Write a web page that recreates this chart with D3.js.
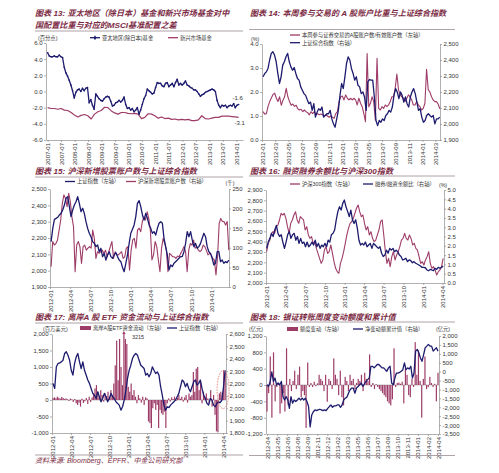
<!DOCTYPE html>
<html><head><meta charset="utf-8">
<script src="https://cdn.jsdelivr.net/npm/d3@7/dist/d3.min.js"></script>
<style>
html,body{margin:0;padding:0;background:#fff;}
svg{display:block;}
text{font-family:"Liberation Sans","Noto Sans CJK SC",sans-serif;}
</style></head><body>
<svg id="chart" width="499" height="473"></svg>
<script>
// ===== 图表13 =====
const f13XTicks = ["2007-01","2007-07","2008-01","2008-07","2009-01","2009-07","2010-01","2010-07","2011-01","2011-07","2012-01","2012-07","2013-01","2013-07","2014-01"];
const f13YTicks = [6,4,2,0,-2,-4,-6];
const f13Asia = [4.8,4.4,4.3,4.3,4.4,4.3,4.3,4.5,4.3,4.2,3.0,2.3,1.9,1.4,0.8,0.1,-0.8,-0.1,0.2,0.3,0.0,0.4,0.1,0.4,0.5,-1.4,-1.0,-1.7,-2.2,-0.3,-0.6,-0.9,-1.1,-1.2,-0.9,-0.7,-0.6,-0.7,-1.2,-1.8,-1.7,-1.4,-1.3,-1.1,-1.3,-1.1,-0.7,-1.6,-2.1,-2.0,-2.3,-2.1,-2.5,-2.3,-2.0,-2.8,-2.3,-1.6,-0.9,-0.5,0.3,0.1,-0.1,-0.3,-0.2,0.5,1.1,1.0,1.0,0.7,0.6,1.0,1.1,0.6,0.8,1.0,0.6,1.1,1.5,0.8,1.0,0.8,1.0,1.3,0.8,0.7,0.5,0.4,0.2,0.2,0.0,-0.3,-0.6,-0.4,-0.3,-0.1,0.0,0.1,0.2,0.3,0.2,0.0,-1.1,-1.7,-2.0,-1.7,-1.8,-1.7,-2.0,-1.8,-1.7,-1.8,-1.5,-2.0,-1.7,-1.6];
const f13EM = [-2.0,-2.1,-2.1,-2.2,-2.1,-2.3,-2.35,-2.6,-2.9,-3.15,-2.95,-2.85,-3.0,-3.4,-2.8,-2.5,-2.35,-1.95,-2.0,-2.4,-2.65,-2.8,-2.6,-2.6,-2.7,-2.75,-2.7,-2.8,-3.35,-3.2,-2.75,-2.8,-3.0,-3.3,-3.15,-3.35,-3.3,-3.45,-3.4,-3.5,-3.45,-3.5,-3.45,-3.6,-3.6,-3.5,-3.0,-3.35,-3.4,-3.3,-3.2,-3.2,-3.05,-3.05,-3.05,-3.1,-3.15,-3.2];
const f13EndLabels = ["-1.6","-3.1"];

// ===== 图表14 =====
const f14XTicks = ["2012-01","2012-03","2012-05","2012-07","2012-09","2012-11","2013-01","2013-03","2013-05","2013-07","2013-09","2013-11","2014-01","2014-03"];
const f14LeftTicks = [0,1,2,3,4];
const f14RightTicks = [1900,2000,2100,2200,2300,2400,2500];
const f14Ratio = [1.18,1.08,1.1,1.4,1.6,1.75,1.9,1.95,1.75,1.6,1.8,1.45,1.65,1.8,2.15,1.8,1.6,1.45,1.5,1.4,1.45,1.3,1.25,1.28,1.18,1.25,1.18,1.14,1.05,1.18,1.1,1.18,1.08,1.1,1.05,1.08,1.05,1.0,1.05,1.0,0.95,1.0,0.95,0.9,1.1,1.18,1.6,1.8,1.83,1.67,1.88,1.74,1.67,1.74,1.67,1.74,1.67,1.46,1.74,1.53,1.39,1.1,0.76,3.6,1.39,1.53,1.8,1.6,0.83,3.4,1.32,1.25,1.39,1.32,1.46,1.39,1.46,1.6,1.8,1.8,2.15,2.75,2.1,1.88,1.8,1.74,1.6,1.74,1.88,1.8,1.67,1.46,1.46,1.6,1.46,1.39,1.25,1.32,1.53,2.95,2.1,2.0,1.8,1.67,1.6,1.6,1.5,1.3];
const f14SH = [2295,2316,2326,2347,2400,2441,2452,2431,2389,2316,2253,2295,2368,2389,2420,2441,2389,2357,2336,2353,2316,2284,2274,2232,2211,2190,2179,2152,2127,2137,2085,2127,2043,2074,2095,2085,2106,2043,2053,2064,2064,2085,2032,2001,1980,2032,2085,2179,2253,2221,2295,2378,2420,2400,2347,2316,2274,2295,2242,2232,2190,2200,2169,2085,2263,2278,2274,2274,2169,2022,1990,2022,2011,2032,2022,2053,2064,2085,2074,2106,2179,2221,2200,2158,2200,2179,2137,2169,2127,2106,2169,2200,2221,2190,2137,2085,2095,2043,2011,2022,2053,2064,2053,2043,2053,2001,2032,2032,2043];

// ===== 图表15 =====
const f15XTicks = ["2012-01","2012-04","2012-07","2012-10","2013-01","2013-04","2013-07","2013-10","2014-01"];
const f15LeftTicks = [1900,2000,2100,2200,2300,2400,2500];
const f15RightTicks = [0,50,100,150,200,250];
const f15SH = [2178,2259,2314,2320,2327,2341,2351,2371,2402,2443,2453,2392,2331,2371,2402,2422,2453,2412,2361,2382,2351,2300,2259,2229,2208,2178,2167,2147,2157,2116,2137,2086,2106,2065,2096,2116,2086,2076,2096,2110,2086,2065,2055,2020,1994,2045,2096,2167,2229,2253,2280,2331,2412,2429,2392,2341,2310,2351,2320,2280,2259,2229,2239,2218,2259,2290,2300,2290,2198,2147,2096,2004,2035,2025,2045,2055,2065,2076,2086,2086,2116,2167,2239,2208,2239,2188,2147,2167,2137,2147,2167,2198,2229,2208,2147,2116,2106,2076,2035,2045,2116,2116,2055,2065,2045,2055,2049,2065];
const f15Accounts = [52,116,107,111,120,145,171,213,235,226,205,239,218,179,154,39,107,116,103,60,103,107,94,99,103,99,145,124,73,90,86,90,94,86,94,77,90,103,116,73,90,82,82,86,90,73,77,99,103,43,94,120,124,99,145,150,141,167,179,171,192,175,145,69,82,116,103,69,39,99,124,111,94,39,86,82,77,77,73,79,77,86,94,103,90,39,94,111,107,120,99,103,94,90,94,107,103,94,82,86,82,73,69,31,77,162,175,167,167,158,167,94];

// ===== 图表16 =====
const f16XTicks = ["2012-01","2012-04","2012-07","2012-10","2013-01","2013-04","2013-07","2013-10","2014-01","2014-04"];
const f16LeftTicks = [2000,2100,2200,2300,2400,2500,2600,2700,2800,2900];
const f16RightTicks = [0,0.5,1,1.5,2,2.5,3,3.5,4,4.5,5];
const f16CSI = [2303,2384,2416,2481,2497,2481,2545,2561,2610,2674,2658,2674,2626,2545,2481,2577,2610,2658,2690,2610,2577,2642,2626,2610,2513,2545,2465,2432,2448,2384,2400,2335,2287,2239,2190,2223,2319,2352,2287,2303,2368,2287,2206,2142,2110,2094,2190,2239,2303,2384,2465,2529,2577,2593,2626,2674,2723,2755,2690,2642,2658,2577,2513,2545,2465,2497,2432,2400,2416,2465,2513,2593,2610,2465,2303,2190,2239,2158,2255,2303,2223,2271,2303,2352,2416,2432,2481,2432,2416,2465,2432,2368,2384,2335,2319,2255,2190,2206,2174,2223,2255,2303,2190,2142,2158,2126,2077,2110,2126,2158,2239];
const f16Ratio = [1.86,2.2,2.4,2.67,2.5,2.85,3.1,2.67,2.5,2.6,2.2,1.86,2.2,2.6,2.76,2.4,2.6,2.67,2.3,2.5,2.13,2.4,2.13,2.2,1.95,2.2,1.95,2.04,2.2,2.04,2.3,1.95,2.13,1.86,2.04,1.95,2.13,1.95,2.3,2.2,2.6,2.67,2.85,3.4,3.85,4.1,3.92,4.28,4.46,4.1,3.85,3.57,3.92,3.4,3.2,3.4,2.95,2.3,2.04,2.13,2.04,2.2,1.95,2.04,2.13,1.86,2.13,2.04,1.95,1.86,1.95,1.6,1.42,1.5,1.77,1.6,1.86,1.77,1.86,1.68,1.77,1.68,1.5,1.42,1.24,1.27,1.33,1.15,1.24,1.2,1.09,1.15,1.06,1.02,0.97,0.91,0.84,0.84,0.82,0.7,0.66,0.73,0.7,0.66,0.79,0.73,0.84,0.79,0.84,0.91];

// ===== 图表17 =====
const f17XTicks = ["2012-01","2012-04","2012-07","2012-10","2013-01","2013-04","2013-07","2013-10","2014-01","2014-04"];
const f17LeftTicks = [-1000,-500,0,500,1000,1500,2000];
const f17RightTicks = [1800,1900,2000,2100,2200,2300,2400,2500,2600];
const f17Flows = [60,80,50,100,70,40,90,60,30,50,20,-30,40,20,-60,30,-100,-150,-80,-200,40,-90,-40,60,-120,100,-60,
 80,200,350,450,250,100,300,150,-50,200,120,250,80,
 300,150,500,1050,1800,600,1850,1000,450,3215,1850,1700,400,
 250,500,150,300,100,-100,150,50,-80,100,-150,80,50,
 -650,-700,-850,-250,-100,-300,-150,-850,-300,-400,-450,-350,-850,-100,
 50,-50,80,30,100,-30,60,150,40,100,-50,80,
 150,-80,200,100,150,850,250,950,1000,300,550,-100,250,
 100,200,50,-100,300,-200,150,-450,-950,-980,200,250,150,900,850];
const f17SH = [2201,2160,2335,2361,2367,2375,2388,2442,2457,2429,2388,2307,2268,2361,2415,2442,2375,2321,2375,2307,2268,2228,2201,2160,2120,2106,2079,2133,2093,2052,2079,2120,2093,2052,2079,2120,2093,2079,2052,2039,2025,1985,2012,2066,2147,2241,2307,2348,2402,2429,2442,2429,2388,2348,2335,2321,2268,2281,2254,2281,2335,2307,2281,2294,2268,2174,2106,2025,1985,2012,2006,2025,2039,2052,2066,2093,2120,2174,2228,2214,2174,2201,2160,2133,2174,2214,2228,2187,2201,2228,2160,2106,2079,2039,2025,2079,2066,2025,2012,2039,2052,2045,2066,2174,2307];

// ===== 图表18 =====
const f18XLabels = ["2012-04","2012-05","2012-06","2012-08","2012-09","2012-11","2012-12","2013-02","2013-03","2013-05","2013-06","2013-07","2013-09","2013-10","2013-11","2014-01","2014-02","2014-04"];
const f18LeftTicks = [-1200,-800,-400,0,400,800,1200];
const f18RightTicks = [-3500,-3000,-2500,-2000,-1500,-1000,-500,0,500,1000,1500,2000];
const f18Weekly = [-650,-200,700,-800,800,-400,-50,50,-700,-450,-200,-650,900,-500,150,-150,100,350,-100,250,450,-300,-150,-250,-1050,550,-50,50,-50,80,-30,40,250,150,100,-150,250,-410,150,100,-100,650,250,150,-250,350,-300,-500,200,100,-150,250,100,150,-100,50,150,100,250,-150,300,150,100,750,-50,50,-100,20,-50,-100,-150,-200,-250,-300,-400,-450,-500,-350,900,-50,50,60,30,80,-450,400,250,-250,-300,150,-50,1050,250,850,100,-800,150,700,-100,-50,200,50,-50,30,-400,300];
const f18Cum = [-740,-830,-550,-20,-550,-360,-740,-640,-740,-550,-1400,-1590,-1400,-1590,-2060,-1400,-1770,-1590,-1680,-1590,-1490,-1590,-1490,-1590,-1490,-1680,-1960,-3100,-2430,-2250,-2150,-2190,-2150,-2110,-2150,-2190,-2150,-2190,-2060,-1960,-1870,-2000,-1920,-1920,-1870,-1870,-2000,-1870,-1590,-1490,-1430,-1210,-1020,-920,-920,-1210,-920,-830,-740,-640,-830,-680,-550,-450,-360,300,300,210,300,400,400,300,210,210,110,20,210,300,-640,-740,-360,-80,-80,-40,20,110,490,110,210,150,300,-360,-80,1150,1250,1060,770,580,960,1340,1430,1530,1430,1430,1150,1250,1340,1150];

// ================= drawing =================
const svg = d3.select("#chart");
const NAVY="#1d1b6e", MAROON="#9e3c68", TITLEC="#7b2a44", AXISC="#8f8f8f", TXT="#333";
const pm = d3.utcParse("%Y-%m"), pd = d3.utcParse("%Y-%m-%d");
const ymFmt = d3.utcFormat("%Y-%m");
function spread(a,b,n){const t0=+pd(a),t1=+pd(b);return d3.range(n).map(i=>new Date(t0+(t1-t0)*i/(n-1)));}
const numFmt = d => (d<0?"-":"")+d3.format(",")(Math.abs(d));
const decFmt = d => (d<0?"-":"")+Math.abs(d).toFixed(1);

function styleAxis(a){
  a.attr("font-family",null).attr("font-size",null);
  a.select(".domain").attr("stroke",AXISC).attr("stroke-width",0.7);
  a.selectAll(".tick line").attr("stroke",AXISC).attr("stroke-width",0.7);
  a.selectAll(".tick text").attr("fill",TXT).style("font-size","6px");
  return a;
}
function xAxisBottom(x,ticks,fmt,y){
  const a=svg.append("g").attr("transform",`translate(0,${y})`)
    .call(d3.axisBottom(x).tickValues(ticks).tickFormat(fmt).tickSize(2).tickSizeOuter(0));
  styleAxis(a);
  a.selectAll(".tick text").attr("transform","rotate(-90)").attr("text-anchor","end").attr("x",-3).attr("y",0).attr("dy","0.35em");
}
function yAxisLeft(y,ticks,fmt,x){
  styleAxis(svg.append("g").attr("transform",`translate(${x},0)`)
    .call(d3.axisLeft(y).tickValues(ticks).tickFormat(fmt).tickSize(2).tickPadding(1.5).tickSizeOuter(0)));
}
function yAxisRight(y,ticks,fmt,x){
  styleAxis(svg.append("g").attr("transform",`translate(${x},0)`)
    .call(d3.axisRight(y).tickValues(ticks).tickFormat(fmt).tickSize(2).tickPadding(1.5).tickSizeOuter(0)));
}
function title(x,y,lines){
  lines.forEach((t,i)=>svg.append("text").attr("x",x).attr("y",y+i*11.5).attr("fill",TITLEC)
    .style("font-size","8.1px").style("font-style","italic").style("font-weight","bold").text(t));
}
function rule(x1,x2,y){svg.append("line").attr("x1",x1).attr("x2",x2).attr("y1",y).attr("y2",y).attr("stroke","#9b8c90").attr("stroke-width",0.8);}
function smallText(x,y,t,anchor){svg.append("text").attr("x",x).attr("y",y).attr("dy","0.35em").attr("text-anchor",anchor||"start").attr("fill",TXT).style("font-size","5.3px").text(t);}
function legLine(x,y,color,label,marker){
  svg.append("line").attr("x1",x).attr("x2",x+10).attr("y1",y).attr("y2",y).attr("stroke",color).attr("stroke-width",1.3);
  if(marker) svg.append("path").attr("d",d3.symbol(d3.symbolDiamond,7)()).attr("transform",`translate(${x+5},${y})`).attr("fill",color);
  smallText(x+12,y,label);
}
function legRect(x,y,color,label){
  svg.append("rect").attr("x",x).attr("y",y-2).attr("width",11).attr("height",4).attr("fill",color);
  smallText(x+13,y,label);
}
function lineSeries(x,y,dates,vals,color,w){
  svg.append("path").datum(vals.map((v,i)=>[dates[i],v]))
    .attr("d",d3.line().x(d=>x(d[0])).y(d=>y(d[1])))
    .attr("fill","none").attr("stroke",color).attr("stroke-width",w).attr("stroke-linejoin","round");
}

// ---- Panel 13 ----
{
  const x=d3.scaleUtc().domain([pd("2006-12-10"),pd("2014-04-01")]).range([46,243]);
  const y=d3.scaleLinear().domain([-6,6]).range([140,43]);
  title(35,16,["图表 13: 亚太地区（除日本）基金和新兴市场基金对中","国配置比重与对应的MSCI基准配置之差"]);
  rule(35,243,31);
  smallText(38,37.7,"(百分点)");
  legLine(90,37.7,NAVY,"亚太地区(除日本)基金",true);
  legLine(168,37.7,MAROON,"新兴市场基金");
  yAxisLeft(y,f13YTicks,decFmt,46);
  xAxisBottom(x,f13XTicks.map(pm),ymFmt,140);
  const dA=spread("2007-01-01","2014-02-01",f13Asia.length);
  const dE=spread("2007-01-01","2014-02-01",f13EM.length);
  lineSeries(x,y,dE,f13EM,MAROON,1.2);
  lineSeries(x,y,dA,f13Asia,NAVY,1.3);
  svg.append("g").selectAll("circle").data(f13Asia).join("circle")
    .attr("cx",(d,i)=>x(dA[i])).attr("cy",d=>y(d)).attr("r",0.8).attr("fill",NAVY);
  const la=dA[dA.length-1], le=dE[dE.length-1];
  svg.append("text").attr("x",x(la)-1).attr("y",y(f13Asia[f13Asia.length-1])-4.5).attr("text-anchor","middle").attr("fill",TXT).style("font-size","6px").text(f13EndLabels[0]);
  svg.append("text").attr("x",x(le)+1).attr("y",y(f13EM[f13EM.length-1])+7.5).attr("text-anchor","middle").attr("fill",TXT).style("font-size","6px").text(f13EndLabels[1]);
}

// ---- Panel 14 ----
{
  const x=d3.scaleUtc().domain([pd("2012-01-01"),pd("2014-03-22")]).range([262,440]);
  const yL=d3.scaleLinear().domain([0,4]).range([140,44]);
  const yR=d3.scaleLinear().domain([1900,2500]).range([140,44]);
  title(250,16,["图表 14: 本周参与交易的 A 股账户比重与上证综合指数"]);
  rule(249,455,29.5);
  smallText(251,39,"(%)");
  legLine(290,35,MAROON,"本周参与证券交易的A股账户数/有效账户数（左轴）");
  legLine(290,42.7,NAVY,"上证综合指数（右轴）");
  yAxisLeft(yL,f14LeftTicks,decFmt,262);
  yAxisRight(yR,f14RightTicks,numFmt,440);
  xAxisBottom(x,f14XTicks.map(pm),ymFmt,140);
  lineSeries(x,yL,spread("2012-01-06","2014-03-21",f14Ratio.length),f14Ratio,MAROON,1.1);
  lineSeries(x,yR,spread("2012-01-06","2014-03-21",f14SH.length),f14SH,NAVY,1.3);
}

// ---- Panel 15 ----
{
  const x=d3.scaleUtc().domain([pd("2012-01-01"),pd("2014-03-22")]).range([50,229]);
  const yL=d3.scaleLinear().domain([1900,2500]).range([287,189]);
  const yR=d3.scaleLinear().domain([0,250]).range([287,189]);
  title(35,173.5,["图表 15: 沪深新增股票账户数与上证综合指数"]);
  rule(35,243,177);
  legLine(65,181.5,NAVY,"上证指数（左轴）");
  legLine(126,181.5,MAROON,"沪深新增股票账户数（右轴）");
  smallText(230,183,"(千)","middle");
  yAxisLeft(yL,f15LeftTicks,numFmt,50);
  yAxisRight(yR,f15RightTicks,numFmt,229);
  xAxisBottom(x,f15XTicks.map(pm),ymFmt,287);
  lineSeries(x,yR,spread("2012-01-06","2014-03-21",f15Accounts.length),f15Accounts,MAROON,1.1);
  lineSeries(x,yL,spread("2012-01-06","2014-03-21",f15SH.length),f15SH,NAVY,1.3);
}

// ---- Panel 16 ----
{
  const x=d3.scaleUtc().domain([pd("2012-01-01"),pd("2014-04-08")]).range([266,444]);
  const yL=d3.scaleLinear().domain([2000,2900]).range([283,190]);
  const yR=d3.scaleLinear().domain([0,5]).range([283,190]);
  title(250,173.5,["图表 16: 融资融券余额比与沪深300指数"]);
  rule(249,455,176);
  legLine(290,184,MAROON,"沪深300指数（左轴）");
  legLine(363,184,NAVY,"融券/融资余额比（右轴）");
  smallText(443,185,"(%)","middle");
  yAxisLeft(yL,f16LeftTicks,numFmt,266);
  yAxisRight(yR,f16RightTicks,decFmt,444);
  xAxisBottom(x,f16XTicks.map(pm),ymFmt,283);
  lineSeries(x,yL,spread("2012-01-04","2014-04-04",f16CSI.length),f16CSI,MAROON,1.1);
  lineSeries(x,yR,spread("2012-01-04","2014-04-04",f16Ratio.length),f16Ratio,NAVY,1.3);
}

// ---- Panel 17 ----
{
  const x=d3.scaleUtc().domain([pd("2012-01-01"),pd("2014-04-15")]).range([52,226]);
  const yL=d3.scaleLinear().domain([-1000,2000]).range([433,334]).clamp(true);
  const yR=d3.scaleLinear().domain([1800,2600]).range([433,334]);
  title(35,319.5,["图表 17: 离岸A 股 ETF 资金流动与上证综合指数"]);
  rule(35,243,323);
  smallText(43,329,"(百万美元)");
  legRect(80,328,MAROON,"离岸A股ETF资金流动（左轴）");
  legLine(167,328,NAVY,"上证指数（右轴）");
  yAxisLeft(yL,f17LeftTicks,numFmt,52);
  yAxisRight(yR,f17RightTicks,numFmt,226);
  xAxisBottom(x,f17XTicks.map(pm),ymFmt,433);
  const dB=spread("2012-01-06","2014-04-11",f17Flows.length);
  svg.append("line").attr("x1",52).attr("x2",226).attr("y1",yL(0)).attr("y2",yL(0)).attr("stroke","#999").attr("stroke-width",0.6);
  svg.append("g").selectAll("rect").data(f17Flows).join("rect")
    .attr("x",(d,i)=>x(dB[i])-0.6).attr("width",1.2)
    .attr("y",d=>Math.min(yL(d),yL(0))).attr("height",d=>Math.abs(yL(d)-yL(0))).attr("fill",MAROON);
  lineSeries(x,yR,spread("2012-01-06","2014-04-11",f17SH.length),f17SH,NAVY,1.3);
  const iMax=f17Flows.indexOf(d3.max(f17Flows));
  svg.append("text").attr("x",x(dB[iMax])+8).attr("y",yL(2000)+5).attr("fill",TXT).style("font-size","5.5px").text(String(f17Flows[iMax]));
  svg.append("path").attr("d",d3.symbol(d3.symbolTriangle,5)()).attr("transform",`translate(${x(dB[iMax])},${yL(2000)-1})`).attr("fill",MAROON);
  svg.append("ellipse").attr("cx",x(pd("2014-04-01"))).attr("cy",yR(2150)).attr("rx",6).attr("ry",19)
    .attr("fill","none").attr("stroke","#d9534f").attr("stroke-width",0.7).attr("stroke-dasharray","1.5,1.2");
}

// ---- Panel 18 ----
{
  const x=d3.scaleLinear().domain([0,1]).range([267,438]);
  const yL=d3.scaleLinear().domain([-1200,1200]).range([434,336]);
  const yR=d3.scaleLinear().domain([-3500,2000]).range([434,336]);
  title(250,319.5,["图表 18: 银证转账周度变动额度和累计值"]);
  rule(249,455,322);
  smallText(249,329,"(亿元)");
  smallText(443,329,"(亿元)","middle");
  legRect(287,329,MAROON,"额度变动（左轴）");
  legLine(353,329,NAVY,"净变动额累计值（右轴）");
  yAxisLeft(yL,f18LeftTicks,numFmt,266);
  yAxisRight(yR,f18RightTicks,numFmt,439);
  xAxisBottom(x,d3.range(f18XLabels.length).map(k=>k/(f18XLabels.length-1)),(d,i)=>f18XLabels[i],434);
  svg.append("line").attr("x1",266).attr("x2",439).attr("y1",yL(0)).attr("y2",yL(0)).attr("stroke","#999").attr("stroke-width",0.6);
  const nB=f18Weekly.length;
  svg.append("g").selectAll("rect").data(f18Weekly).join("rect")
    .attr("x",(d,i)=>x(i/(nB-1))-0.6).attr("width",1.2)
    .attr("y",d=>Math.min(yL(d),yL(0))).attr("height",d=>Math.abs(yL(d)-yL(0))).attr("fill",MAROON);
  const nC=f18Cum.length;
  svg.append("path").datum(f18Cum).attr("d",d3.line().x((d,i)=>x(i/(nC-1))).y(d=>yR(d)))
    .attr("fill","none").attr("stroke",NAVY).attr("stroke-width",1.3).attr("stroke-linejoin","round");
}

// ---- footer ----
rule(35,243,455);
rule(249,455,455.5);
svg.append("text").attr("x",35).attr("y",463).attr("fill",TITLEC).style("font-size","7px").style("font-style","italic").text("资料来源: Bloomberg、EPFR、中金公司研究部");
</script>
</body></html>
